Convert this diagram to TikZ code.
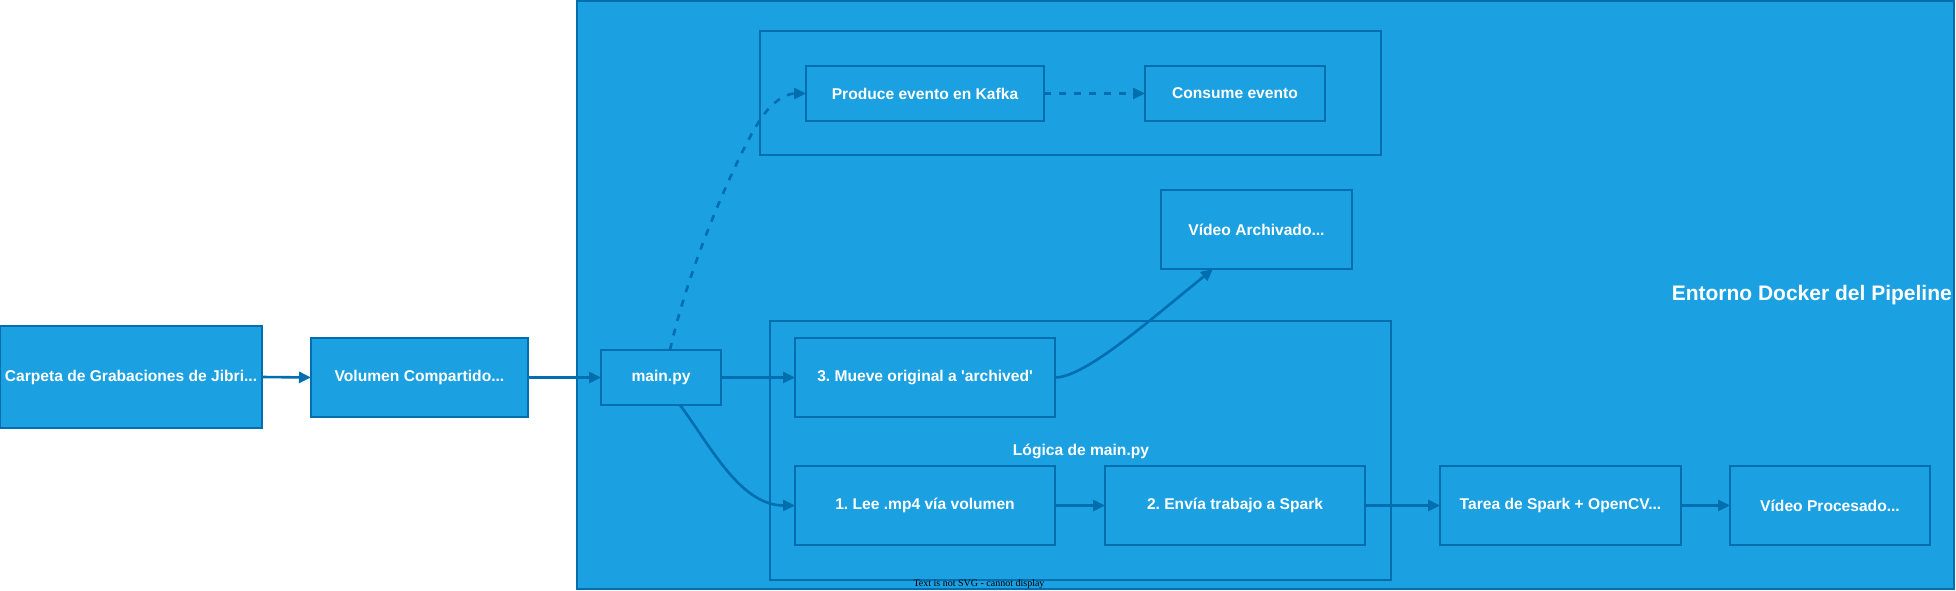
\documentclass[tikz,border=0pt]{standalone}
\usepackage{fontspec}
\setmainfont{Liberation Sans}[Ligatures=TeXOff]
\newfontfamily\seriffont{Liberation Serif}
\usetikzlibrary{arrows.meta,calc}
\definecolor{dfill}{HTML}{1BA1E2}
\definecolor{dline}{HTML}{006EAF}
\frenchspacing
\begin{document}
\begin{tikzpicture}[x=1pt,y=-1pt,
  box/.style={draw=dline,fill=dfill,line width=2.6pt,inner sep=0pt,outer sep=0pt,text=white,
    font=\bfseries\fontsize{15.6}{18}\selectfont\frenchspacing,align=center},
  cont/.style={draw=dline,fill=dfill,line width=2.6pt,inner sep=0pt,outer sep=0pt},
  lbl/.style={text=white,font=\bfseries\fontsize{15.6}{18}\selectfont,inner sep=0pt},
  title/.style={text=white,font=\bfseries\fontsize{21}{25}\selectfont,inner sep=0pt},
  conn/.style={draw=dline,line width=2.6pt,-{Triangle[length=12pt,width=11pt]}},
  dconn/.style={conn,dash pattern=on 7pt off 8pt}]
\useasboundingbox (0,0) rectangle (1956,591);
% containers
\node[cont,minimum width=1377pt,minimum height=588pt] (docker) at (1265.5,295) {};
\node[cont,minimum width=621pt,minimum height=124pt] (kafka) at (1070.5,93) {};
\node[cont,minimum width=621pt,minimum height=259pt] (logica) at (1080.5,450.5) {};
\node[title,anchor=east] (dtitle) at (1952,295) {Entorno Docker del Pipeline};
\node[lbl] (loglabel) at (1081,451) {Lógica de main.py};
% boxes
\node[box,minimum width=262pt,minimum height=102pt] (carpeta) at (131,377) {Carpeta de Grabaciones de Jibri...};
\node[box,minimum width=217pt,minimum height=79pt] (volumen) at (419.5,377.5) {Volumen Compartido...};
\node[box,minimum width=120pt,minimum height=55pt] (main) at (661,377.5) {main.py};
\node[box,minimum width=238pt,minimum height=55pt] (produce) at (925,93.5) {Produce evento en Kafka};
\node[box,minimum width=180pt,minimum height=55pt] (consume) at (1235,93.5) {Consume evento};
\node[box,minimum width=191pt,minimum height=79pt] (archivado) at (1256.5,229.5) {Vídeo Archivado...};
\node[box,minimum width=260pt,minimum height=79pt] (mueve) at (925,377.5) {3. Mueve original a 'archived'};
\node[box,minimum width=260pt,minimum height=79pt] (lee) at (925,505.5) {1. Lee .mp4 vía volumen};
\node[box,minimum width=260pt,minimum height=79pt] (envia) at (1235,505.5) {2. Envía trabajo a Spark};
\node[box,minimum width=241pt,minimum height=79pt] (tarea) at (1560.5,505.5) {Tarea de Spark + OpenCV...};
\node[box,minimum width=200pt,minimum height=79pt] (procesado) at (1830,505.5) {Vídeo Procesado...};
\node[font=\seriffont\fontsize{10}{12}\selectfont,text=black,inner sep=0pt] (svgnote) at (979,584) {Text is not SVG - cannot display};
% connectors
\draw[conn] (carpeta.east) -- (volumen.west);
\draw[conn] (volumen.east) -- (main.west);
\draw[conn] (main.east) -- (mueve.west);
\draw[dconn] ([xshift=9pt]main.north) .. controls (690,260) and (740,150) .. (760,120)
  .. controls (775,97) and (790,93.5) .. (produce.west);
\draw[dconn] (produce.east) -- (consume.west);
\draw[conn] ([xshift=19pt]main.south) .. controls (710,445) and (740,505.5) .. (lee.west);
\draw[conn] (mueve.east) .. controls (1085,377.5) and (1150,320) .. ([xshift=-43.5pt]archivado.south);
\draw[conn] (lee.east) -- (envia.west);
\draw[conn] (envia.east) -- (tarea.west);
\draw[conn] (tarea.east) -- (procesado.west);
\end{tikzpicture}
\end{document}
